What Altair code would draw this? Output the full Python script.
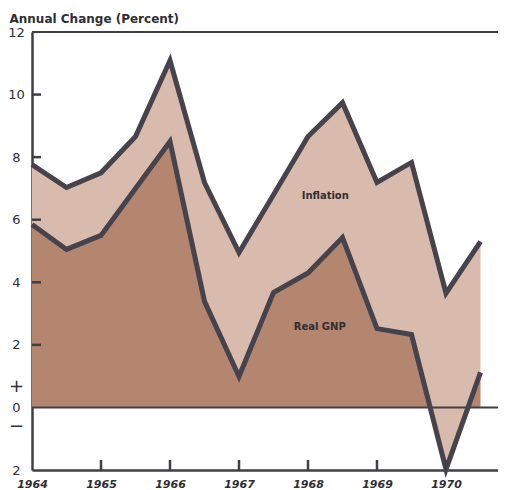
import altair as alt
import pandas as pd

# ---- data ----
years = [1964.0, 1964.5, 1965.0, 1965.5, 1966.0, 1966.5, 1967.0,
         1967.5, 1968.0, 1968.5, 1969.0, 1969.5, 1970.0, 1970.5]
real_gnp = [5.85, 5.05, 5.5, 7.0, 8.5, 3.39, 0.99,
            3.67, 4.3, 5.43, 2.52, 2.33, -1.98, 1.12]
total_change = [7.76, 7.03, 7.5, 8.66, 11.09, 7.19, 4.95,
                6.8, 8.66, 9.74, 7.19, 7.83, 3.65, 5.3]

x_tick_years = [1964, 1965, 1966, 1967, 1968, 1969, 1970]
x_inner_ticks = [1965, 1966, 1967, 1968, 1969, 1970]
# axis label positions: numbers plus the "+" / "−" signs around zero
y_tick_values = [-2, -0.62, 0, 0.66, 2, 4, 6, 8, 10, 12]
y_inner_ticks = [2, 4, 6, 8, 10]
frame_lines = [0, 12]

label_text = ["Inflation", "Real GNP"]
label_x = [1968.25, 1968.17]
label_y = [6.77, 2.56]

# ---- styling ----
W, H = 466, 438
DARK = "#b5866f"
LIGHT = "#d8bbac"
LINE = "#47434c"
AXIS = "#3f3f45"
FONT = "DejaVu Sans"

df = pd.DataFrame({"year": years, "gnp": real_gnp, "total": total_change})
labels_df = pd.DataFrame({"text": label_text, "x": label_x, "y": label_y})

x_scale = alt.Scale(domain=[1964, 1964 + W / 69.0], nice=False, zero=False)
y_scale = alt.Scale(domain=[-2, 12], nice=False, zero=False)

sign_test = "datum.value != 0 && datum.value > -1 && datum.value < 1"

x_axis = alt.Axis(values=x_tick_years, format="d", ticks=False, grid=False,
                  domainColor=AXIS, domainWidth=2.5, labelFont=FONT,
                  labelFontSize=11, labelFontWeight="bold", labelFontStyle="italic",
                  labelColor="#2e2e33", labelPadding=8, labelFlush=False, title=None)
y_axis = alt.Axis(values=y_tick_values, ticks=False, grid=False,
                  domainColor=AXIS, domainWidth=2.5, labelFont=FONT,
                  labelFontSize={"condition": {"test": sign_test, "value": 18},
                                 "value": 13},
                  labelColor="#2e2e33", labelAlign="center",
                  labelPadding=16, labelFlush=False, labelOverlap=False,
                  labelExpr=("datum.value == -2 ? '2' : "
                             "(datum.value < 0 ? '\u2212' : "
                             "(datum.value > 0 && datum.value < 1 ? '+' : datum.label))"),
                  title="Annual Change (Percent)", titleAngle=0, titleAlign="left",
                  titleBaseline="alphabetic", titleX=-23, titleY=-10,
                  titleFont=FONT, titleFontSize=12, titleFontWeight="bold",
                  titleColor="#2e2e33")


def X(field="year"):
    return alt.X(f"{field}:Q", scale=x_scale, axis=x_axis)


def Y(field):
    return alt.Y(f"{field}:Q", scale=y_scale, axis=y_axis)


base = alt.Chart(df)

dark_area = base.mark_area(color=DARK, opacity=1).encode(
    x=X(), y=Y("gnp"), y2=alt.datum(0))
light_area = base.mark_area(color=LIGHT, opacity=1).encode(
    x=X(), y=Y("total"), y2="gnp:Q")

frame = alt.Chart(pd.DataFrame({"v": frame_lines})).mark_rule(
    color=AXIS, strokeWidth=2).encode(
    y=Y("v"), x=alt.value(0), x2=alt.value(W))

line_total = base.mark_line(color=LINE, strokeWidth=5, strokeJoin="miter").encode(
    x=X(), y=Y("total"))
line_gnp = base.mark_line(color=LINE, strokeWidth=5, strokeJoin="miter").encode(
    x=X(), y=Y("gnp"))

y_ticks = alt.Chart(pd.DataFrame({"v": y_inner_ticks})).mark_rule(
    color=AXIS, strokeWidth=2.5).encode(
    y=Y("v"), x=alt.value(0), x2=alt.value(9))
x_ticks = alt.Chart(pd.DataFrame({"year": x_inner_ticks})).mark_rule(
    color=AXIS, strokeWidth=2.5).encode(
    x=X(), y=alt.value(H), y2=alt.value(H - 10))

text = alt.Chart(labels_df).mark_text(
    font=FONT, fontSize=10, fontWeight="bold", color="#2e2e33",
    align="center", baseline="middle").encode(
    x=X("x"), y=Y("y"), text="text:N")

chart = alt.layer(dark_area, light_area, frame, line_total, line_gnp,
                  y_ticks, x_ticks, text).properties(
    width=W, height=H,
    autosize=alt.AutoSizeParams(type="none"),
    padding={"left": 24, "top": 24, "right": 0, "bottom": 20},
).configure_view(stroke=None).configure(background="white")

chart.save("out.html", embed_options={"renderer": "svg", "actions": False})
